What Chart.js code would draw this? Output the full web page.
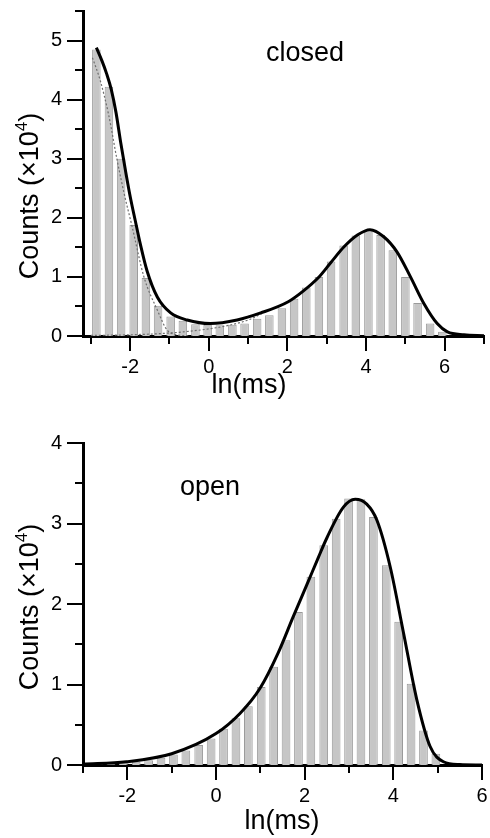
<!DOCTYPE html>
<html>
<head>
<meta charset="utf-8">
<script src="https://cdn.jsdelivr.net/npm/chart.js@4.4.1/dist/chart.umd.min.js"></script>
<style>
    html, body { margin: 0; padding: 0; background: #fff; overflow: hidden; }
    #wrap { position: relative; width: 490px; height: 838px; overflow: hidden; }
    canvas { display: block; position: absolute; left: 0; }
    #closedChart { top: 0; }
    #openChart { top: 400px; }
</style>
</head>
<body>
<div id="wrap">
    <canvas id="closedChart" width="490" height="400"></canvas>
    <canvas id="openChart" width="490" height="438"></canvas>
</div>
<script>
/* ============================================
   DWELL-TIME HISTOGRAMS (counts x 10^4 vs ln(ms))
   ============================================ */

// --- closed times: histogram bins ---
const closedBinX = [-2.86, -2.54, -2.23, -1.91, -1.60, -1.29, -0.97, -0.66, -0.34, -0.03,
                    0.28, 0.60, 0.91, 1.23, 1.54, 1.86, 2.17, 2.48, 2.80, 3.11,
                    3.43, 3.74, 4.06, 4.37, 4.68, 5.00, 5.31, 5.63, 5.94];
const closedCounts = [4.85, 4.22, 3.00, 1.88, 0.98, 0.51, 0.33, 0.26, 0.20, 0.19,
                      0.18, 0.19, 0.21, 0.29, 0.35, 0.47, 0.63, 0.82, 1.00, 1.26,
                      1.53, 1.70, 1.77, 1.71, 1.45, 1.00, 0.56, 0.21, 0.07];

// --- closed times: total fit (solid) ---
const closedFitX = [-2.86, -2.72, -2.60, -2.48, -2.36, -2.24, -2.12, -2.00, -1.87, -1.74,
                    -1.57, -1.31, -0.97, -0.55, 0.04, 0.72, 1.32, 2.02, 2.40, 2.79,
                    3.10, 3.44, 3.78, 4.10, 4.45, 4.79, 5.13, 5.47, 5.81, 6.07,
                    6.49, 7.00];
const closedFitY = [4.88, 4.66, 4.44, 4.17, 3.78, 3.27, 2.80, 2.36, 1.95, 1.55,
                    1.10, 0.66, 0.39, 0.27, 0.21, 0.27, 0.39, 0.58, 0.76, 0.99,
                    1.24, 1.51, 1.71, 1.80, 1.68, 1.42, 1.00, 0.55, 0.21, 0.07,
                    0.02, 0.005];

// --- closed times: fit components (dotted) ---
const shortCompX = [-2.96, -2.76, -2.55, -2.33, -2.15, -1.95, -1.65, -1.31, -1.06, -0.80, -0.50];
const shortCompY = [4.71, 4.32, 3.75, 2.97, 2.40, 1.85, 1.00, 0.44, 0.10, 0.02, 0.0];
const longCompX = [-3.0, -2.0, -1.0, -0.5, 0.0, 0.5, 1.0, 1.5];
const longCompY = [0.01, 0.02, 0.05, 0.08, 0.12, 0.18, 0.27, 0.43];

// --- open times: histogram bins ---
const openBinX = [-2.93, -2.65, -2.37, -2.09, -1.80, -1.52, -1.24, -0.96, -0.68, -0.39,
                  -0.11, 0.17, 0.45, 0.73, 1.02, 1.30, 1.58, 1.86, 2.14, 2.43,
                  2.71, 2.99, 3.27, 3.55, 3.84, 4.12, 4.40, 4.68, 4.96];
const openCounts = [0.005, 0.01, 0.02, 0.03, 0.04, 0.06, 0.09, 0.13, 0.18, 0.25,
                    0.33, 0.45, 0.58, 0.73, 0.97, 1.22, 1.55, 1.90, 2.34, 2.73,
                    3.06, 3.31, 3.30, 3.08, 2.48, 1.78, 1.01, 0.43, 0.14];

// --- open times: fit (solid) ---
const openFitX = [-3.0, -2.02, -1.0, 0.0, 0.54, 0.99, 1.40, 1.74, 2.05, 2.31,
                  2.50, 2.87, 3.14, 3.40, 3.63, 3.93, 4.23, 4.53, 4.83, 5.13,
                  5.50, 6.00];
const openFitY = [0.01, 0.04, 0.14, 0.39, 0.64, 0.95, 1.39, 1.84, 2.24, 2.58,
                  2.82, 3.20, 3.30, 3.24, 3.04, 2.46, 1.64, 0.81, 0.23, 0.04,
                  0.005, 0.0];

const FONT = "'Liberation Sans', Arial, Helvetica, sans-serif";

function pairs(xs, ys) {
    return xs.map((x, i) => ({ x: x, y: ys[i] }));
}

// scales should not push the plot area around for label overhang
function noScalePadding(s) {
    s.paddingTop = 0;
    s.paddingBottom = 0;
    s.paddingLeft = 0;
    s.paddingRight = 0;
}

/**
 * Major / minor tick marks drawn outward from the axes
 */
const tickMarks = {
    id: 'tickMarks',
    afterDraw(chart) {
        const { ctx, chartArea, scales } = chart;
        ctx.save();
        ctx.strokeStyle = '#000';
        ctx.lineWidth = 2;
        ctx.beginPath();
        scales.x.ticks.forEach(t => {
            const px = Math.round(scales.x.getPixelForValue(t.value));
            const len = Math.abs(t.value % 2) < 1e-6 ? 15 : 8;
            ctx.moveTo(px, chartArea.bottom);
            ctx.lineTo(px, chartArea.bottom + len);
        });
        scales.y.ticks.forEach(t => {
            const py = Math.round(scales.y.getPixelForValue(t.value));
            const len = Math.abs(t.value % 1) < 1e-6 ? 16 : 8;
            ctx.moveTo(chartArea.left, py);
            ctx.lineTo(chartArea.left - len, py);
        });
        ctx.stroke();
        ctx.restore();
    }
};

/**
 * Axis titles and panel label
 */
const panelText = {
    id: 'panelText',
    afterDraw(chart, args, o) {
        const ctx = chart.ctx;
        ctx.save();
        ctx.fillStyle = '#000';
        ctx.font = '27px ' + FONT;
        ctx.textBaseline = 'alphabetic';

        // panel label
        ctx.textAlign = 'left';
        ctx.fillText(o.label, o.labelX, o.labelY);

        // x title
        ctx.textAlign = 'center';
        ctx.fillText('ln(ms)', o.xTitleX, o.xTitleY);

        // y title, rotated, with superscript exponent
        const main = 'Counts (\u00d710';
        ctx.font = '27px ' + FONT;
        const wMain = ctx.measureText(main).width;
        const wClose = ctx.measureText(')').width;
        ctx.font = '17px ' + FONT;
        const wSup = ctx.measureText('4').width;
        const total = wMain + wSup + wClose;
        ctx.translate(o.yTitleX, o.yTitleY);
        ctx.rotate(-Math.PI / 2);
        ctx.textAlign = 'left';
        let cx = -total / 2;
        ctx.font = '27px ' + FONT;
        ctx.fillText(main, cx, 0);
        cx += wMain;
        ctx.font = '17px ' + FONT;
        ctx.fillText('4', cx, -11);
        cx += wSup;
        ctx.font = '27px ' + FONT;
        ctx.fillText(')', cx, 0);
        ctx.restore();
    }
};

function buildChart(canvasId, cfg) {
    const tickFont = { family: FONT, size: 20 };
    return new Chart(document.getElementById(canvasId), {
        type: 'bar',
        data: { datasets: cfg.datasets },
        options: {
            responsive: false,
            animation: false,
            devicePixelRatio: 1,
            layout: { padding: cfg.padding },
            plugins: {
                legend: { display: false },
                tooltip: { enabled: false },
                panelText: cfg.text
            },
            scales: {
                x: {
                    type: 'linear',
                    min: cfg.xMin,
                    max: cfg.xMax,
                    offset: false,
                    grid: { display: false, drawTicks: false, offset: false },
                    border: { color: '#000', width: 3 },
                    ticks: {
                        stepSize: 1,
                        includeBounds: false,
                        autoSkip: false,
                        maxRotation: 0,
                        padding: 19,
                        color: '#000',
                        font: tickFont,
                        callback: v => (Math.abs(v % 2) < 1e-6 ? String(v) : '')
                    },
                    afterFit(s) {
                        s.height = cfg.xAxisHeight;
                        noScalePadding(s);
                    }
                },
                y: {
                    min: 0,
                    max: cfg.yMax,
                    grid: { display: false, drawTicks: false },
                    border: { color: '#000', width: 3 },
                    ticks: {
                        stepSize: 0.5,
                        autoSkip: false,
                        padding: 21,
                        color: '#000',
                        font: tickFont,
                        callback: v => (Math.abs(v % 1) < 1e-6 ? String(v) : '')
                    },
                    afterFit(s) {
                        s.width = 83;
                        noScalePadding(s);
                    }
                }
            }
        },
        plugins: [tickMarks, panelText]
    });
}

function histDataset(xs, ys) {
    return {
        type: 'bar',
        data: pairs(xs, ys),
        backgroundColor: '#c6c6c6',
        borderColor: '#9a9a9a',
        borderWidth: 1,
        barPercentage: 0.7,
        categoryPercentage: 1,
        order: 3
    };
}

function fitDataset(xs, ys) {
    return {
        type: 'line',
        data: pairs(xs, ys),
        borderColor: '#000',
        borderWidth: 3,
        pointRadius: 0,
        fill: false,
        cubicInterpolationMode: 'monotone',
        order: 1
    };
}

function compDataset(xs, ys) {
    return {
        type: 'line',
        data: pairs(xs, ys),
        borderColor: '#6e6e6e',
        borderWidth: 1.2,
        borderDash: [2, 2],
        pointRadius: 0,
        fill: false,
        cubicInterpolationMode: 'monotone',
        order: 2
    };
}

buildChart('closedChart', {
    datasets: [
        fitDataset(closedFitX, closedFitY),
        compDataset(shortCompX, shortCompY),
        compDataset(longCompX, longCompY),
        histDataset(closedBinX, closedCounts)
    ],
    xMin: -3.2, xMax: 7, yMax: 5.5,
    padding: { left: 0, right: 6, top: 11, bottom: 0 },
    xAxisHeight: 64,
    text: { label: 'closed', labelX: 266, labelY: 61,
            xTitleX: 249, xTitleY: 393, yTitleX: 38, yTitleY: 196 }
});

buildChart('openChart', {
    datasets: [
        fitDataset(openFitX, openFitY),
        histDataset(openBinX, openCounts)
    ],
    xMin: -3, xMax: 6, yMax: 4,
    padding: { left: 0, right: 8, top: 43, bottom: 0 },
    xAxisHeight: 73,
    text: { label: 'open', labelX: 180, labelY: 95,
            xTitleX: 282, xTitleY: 429, yTitleX: 38, yTitleY: 207 }
});
</script>
</body>
</html>
